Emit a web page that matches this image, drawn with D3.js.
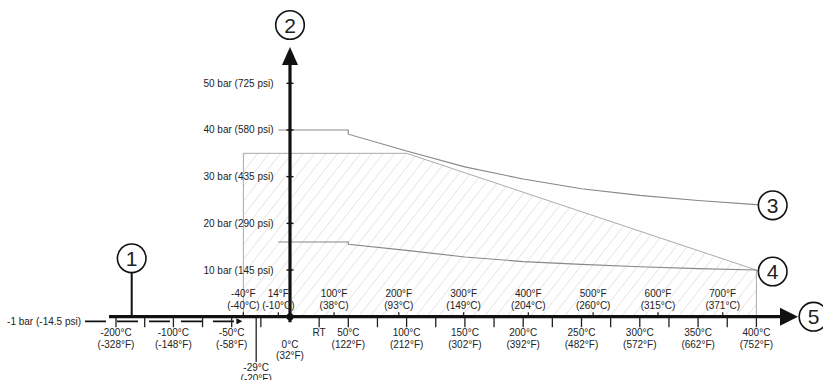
<!DOCTYPE html>
<html><head><meta charset="utf-8">
<script src="https://cdn.jsdelivr.net/npm/d3@7"></script>
<style>
html,body{margin:0;padding:0;background:#fff;}
svg text{font-family:"Liberation Sans",Arial,sans-serif;fill:#222;}
</style></head>
<body><svg id="c" width="823" height="380"></svg>
<script>
// ---- data ----
const yTicks = [10, 20, 30, 40, 50];
const yTickLabels = ["10 bar (145 psi)", "20 bar (290 psi)", "30 bar (435 psi)", "40 bar (580 psi)", "50 bar (725 psi)"];
const vacuumValue = -1;
const vacuumLabel = "-1 bar (-14.5 psi)";

const cTicks = [-200, -100, -50, 0, 50, 100, 150, 200, 250, 300, 350, 400];
const cLabels = ["-200°C", "-100°C", "-50°C", "0°C", "50°C", "100°C", "150°C", "200°C", "250°C", "300°C", "350°C", "400°C"];
const cLabelsF = ["(-328°F)", "(-148°F)", "(-58°F)", "(32°F)", "(122°F)", "(212°F)", "(302°F)", "(392°F)", "(482°F)", "(572°F)", "(662°F)", "(752°F)"];
const minorTicks = [-200, -150, -100, -75, -50, -25, 25, 50, 75, 100, 125, 150, 175, 200, 225, 250, 275, 300, 325, 350, 375, 400];
const rtValue = 25, rtLabel = "RT";
const minTempValue = -29, minTempLabel = "-29°C", minTempLabelF = "(-20°F)";

const fTopPos = [-40, -10, 37.8, 93.3, 148.9, 204.4, 260, 315.6, 371.1];
const fTopLabels = ["-40°F", "14°F", "100°F", "200°F", "300°F", "400°F", "500°F", "600°F", "700°F"];
const fTopSub = ["(-40°C)", "(-10°C)", "(38°C)", "(93°C)", "(149°C)", "(204°C)", "(260°C)", "(315°C)", "(371°C)"];

const line3T = [-10, 50, 50, 100, 150, 200, 250, 300, 350, 400];
const line3P = [40, 40, 39.1, 35.5, 32.1, 29.5, 27.4, 26.0, 24.9, 24.0];
const line4T = [-10, 50, 50, 100, 150, 200, 250, 300, 350, 400];
const line4P = [16, 16, 15.5, 14.2, 12.8, 11.8, 11.2, 10.7, 10.3, 10.0];
const areaT = [-40, -40, 100, 400, 400];
const areaP = [0, 35, 35, 10, 0];

// ---- scales ----
const svg = d3.select("#c");
const x = d3.scaleLinear().domain([-200, -100, 400]).range([116, 173.4, 756.4]);
const y = d3.scaleLinear().domain([0, 50]).range([316.7, 83.3]);
const x0 = x(0), yA = y(0);

const defs = svg.append("defs");
const pat = defs.append("pattern").attr("id", "hatch").attr("patternUnits", "userSpaceOnUse")
  .attr("width", 9).attr("height", 9).attr("patternTransform", "rotate(38)");
pat.append("line").attr("x1", 0).attr("y1", 0).attr("x2", 0).attr("y2", 9)
  .attr("stroke", "#d4d4d4").attr("stroke-width", 1.1);
defs.append("marker").attr("id", "arr").attr("viewBox", "0 0 10 10").attr("refX", 10).attr("refY", 5)
  .attr("markerWidth", 10).attr("markerHeight", 6).attr("markerUnits", "userSpaceOnUse").attr("orient", "auto")
  .append("path").attr("d", "M0,0L10,5L0,10Z").attr("fill", "#111");

// hatched area
const pts = areaT.map((t, i) => [x(t), y(areaP[i])]);
svg.append("path").attr("d", d3.line()(pts)).attr("fill", "url(#hatch)").attr("stroke", "#aaa").attr("stroke-width", 1);

// curves
const ln = d3.line();
svg.append("path").attr("d", ln(line3T.map((t, i) => [x(t), y(line3P[i])]).concat([[758, y(line3P[line3P.length-1])]])))
  .attr("fill", "none").attr("stroke", "#888").attr("stroke-width", 1.1);
svg.append("path").attr("d", ln(line4T.map((t, i) => [x(t), y(line4P[i])]).concat([[758, y(line4P[line4P.length-1]) + 0.7]])))
  .attr("fill", "none").attr("stroke", "#888").attr("stroke-width", 1.1);

// vacuum line
svg.append("line").attr("x1", 85).attr("x2", x(-40) - 1).attr("y1", y(vacuumValue)).attr("y2", y(vacuumValue))
  .attr("stroke", "#111").attr("stroke-width", 1.6).attr("stroke-dasharray", "21,11").attr("marker-end", "url(#arr)");
svg.append("text").attr("x", 81).attr("y", y(vacuumValue)).attr("dy", "0.35em").attr("text-anchor", "end")
  .attr("font-size", 10).text(vacuumLabel);

// minor ticks below axis
svg.selectAll(".mt").data(minorTicks).join("line").attr("class", "mt")
  .attr("x1", d => x(d)).attr("x2", d => x(d)).attr("y1", yA).attr("y2", yA + 10.5)
  .attr("stroke", "#222").attr("stroke-width", 1.3);
// F ticks above axis
svg.selectAll(".ft").data(fTopPos).join("line").attr("class", "ft")
  .attr("x1", d => x(d)).attr("x2", d => x(d)).attr("y1", yA).attr("y2", yA - 4.5)
  .attr("stroke", "#222").attr("stroke-width", 1.3);
// -29 line
svg.append("line").attr("x1", x(minTempValue)).attr("x2", x(minTempValue)).attr("y1", yA).attr("y2", 362)
  .attr("stroke", "#222").attr("stroke-width", 1.3);

// x axis
svg.append("line").attr("x1", x(-200) - 7).attr("x2", 782).attr("y1", yA).attr("y2", yA)
  .attr("stroke", "#111").attr("stroke-width", 3.2);
svg.append("path").attr("d", `M780,${yA - 9}L798,${yA}L780,${yA + 9}Z`).attr("fill", "#111");

// y axis
svg.append("line").attr("x1", x0).attr("x2", x0).attr("y1", yA + 5.5).attr("y2", 63)
  .attr("stroke", "#111").attr("stroke-width", 3.2);
svg.append("path").attr("d", `M${x0 - 8},65L${x0},47L${x0 + 8},65Z`).attr("fill", "#111");
svg.append("circle").attr("cx", x0).attr("cy", yA).attr("r", 3.5).attr("fill", "#111");

// y ticks + labels
svg.selectAll(".yt").data(yTicks).join("line").attr("class", "yt")
  .attr("x1", x0 - 3.5).attr("x2", x0 + 3.5).attr("y1", d => y(d)).attr("y2", d => y(d))
  .attr("stroke", "#111").attr("stroke-width", 1.4);
svg.selectAll(".yl").data(yTicks).join("text").attr("class", "yl")
  .attr("x", 273.5).attr("y", d => y(d)).attr("dy", "0.35em").attr("text-anchor", "end")
  .attr("font-size", 10).text((d, i) => yTickLabels[i]);

// bottom C labels
const bl = svg.selectAll(".bl").data(cTicks).join("g").attr("class", "bl")
  .attr("transform", d => `translate(${x(d)},${d === 0 ? 347.5 : 336.3})`);
bl.append("text").attr("text-anchor", "middle").attr("font-size", 10).text((d, i) => cLabels[i]);
bl.append("text").attr("text-anchor", "middle").attr("font-size", 10).attr("y", 11.5).text((d, i) => cLabelsF[i]);
svg.append("text").attr("x", x(rtValue)).attr("y", 336.3).attr("text-anchor", "middle").attr("font-size", 10).text(rtLabel);
svg.append("text").attr("x", x(minTempValue)).attr("y", 370.5).attr("text-anchor", "middle").attr("font-size", 10).text(minTempLabel);
svg.append("text").attr("x", x(minTempValue)).attr("y", 382).attr("text-anchor", "middle").attr("font-size", 10).text(minTempLabelF);

// top F labels
const tl = svg.selectAll(".tl").data(fTopPos).join("g").attr("class", "tl")
  .attr("transform", d => `translate(${x(d)},297)`);
tl.append("text").attr("text-anchor", "middle").attr("font-size", 10).text((d, i) => fTopLabels[i]);
tl.append("text").attr("text-anchor", "middle").attr("font-size", 10).attr("y", 11.5).text((d, i) => fTopSub[i]);

// callouts
const callouts = [
  {n: "1", cx: 131.7, cy: 258.3},
  {n: "2", cx: x0, cy: 25},
  {n: "3", cx: 772.7, cy: 205.3},
  {n: "4", cx: 772.7, cy: 271.5},
  {n: "5", cx: 813.5, cy: yA}
];
svg.append("line").attr("x1", 131.7).attr("x2", 131.7).attr("y1", 272).attr("y2", yA).attr("stroke", "#111").attr("stroke-width", 2);
const cg = svg.selectAll(".co").data(callouts).join("g").attr("class", "co")
  .attr("transform", d => `translate(${d.cx},${d.cy})`);
cg.append("circle").attr("r", 14.3).attr("fill", "#fff").attr("stroke", "#111").attr("stroke-width", 1.6);
cg.append("text").attr("text-anchor", "middle").attr("dy", "0.36em").attr("font-size", 21).text(d => d.n);
</script></body></html>
